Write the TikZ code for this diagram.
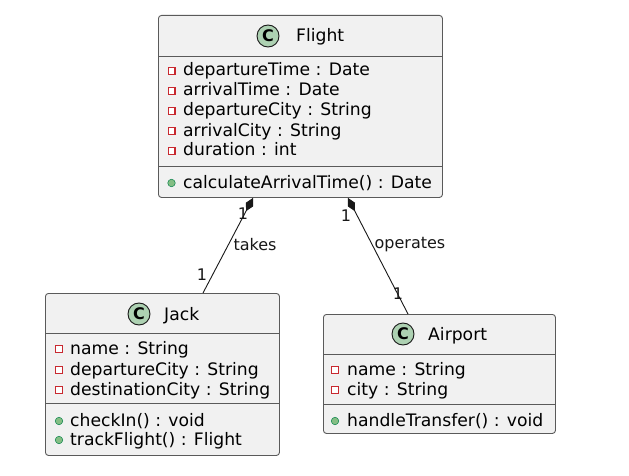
\documentclass[tikz,border=0pt]{standalone}
\usepackage{fontspec}
\setmainfont{DejaVu Sans}
\usetikzlibrary{arrows.meta,calc}
\definecolor{boxfill}{HTML}{F1F1F1}
\definecolor{boxline}{HTML}{5A5A5A}
\definecolor{iconfill}{HTML}{ADD1B2}
\definecolor{privred}{HTML}{C82930}
\definecolor{pubgreen}{HTML}{84BE84}
\definecolor{pubedge}{HTML}{038048}
\definecolor{linecol}{HTML}{181818}
\tikzset{
  classbox/.style={draw=boxline, fill=boxfill, line width=0.9pt, rounded corners=3pt, anchor=north west, inner sep=0pt},
  sepline/.style={draw=boxline, line width=0.9pt},
  member/.style={anchor=base west, inner sep=0pt, font=\fontsize{17.2}{20}\selectfont},
  title/.style={anchor=base west, inner sep=0pt, font=\fontsize{17.2}{20}\selectfont},
  cicon/.style={circle, draw=linecol, fill=iconfill, line width=0.9pt, minimum size=22pt, inner sep=0pt, font=\fontsize{16}{16}\selectfont\bfseries},
  pub/.style={circle, draw=pubedge, fill=pubgreen, line width=0.5pt, minimum size=7.5pt, inner sep=0pt},
  lbl/.style={inner sep=0pt, font=\fontsize{16}{16}\selectfont, text=linecol},
  conn/.style={draw=linecol, line width=0.9pt},
}
\newcommand{\privicon}[2]{%
  \fill[privred] ($(#1,#2)+(-4,-4)$) rectangle ($(#1,#2)+(4,4)$);
  \fill[white] ($(#1,#2)+(-2.8,-2.8)$) rectangle ($(#1,#2)+(2.8,2.8)$);}
\begin{document}
\begin{tikzpicture}[x=1pt,y=-1pt]
\useasboundingbox (0,0) rectangle (629,476);
\fill[white] (0,0) rectangle (629,476);

% ---------- Flight ----------
\node[classbox, minimum width=284pt, minimum height=182pt] (flight) at (158,15) {};
\draw[sepline] (158,56) -- (442,56);
\draw[sepline] (158,166) -- (442,166);
\node[cicon] (flightC) at (268,36) {C};
\node[title] (flightT) at (296,42) {Flight};
\privicon{171.5}{71}
\privicon{171.5}{91}
\privicon{171.5}{111}
\privicon{171.5}{131}
\privicon{171.5}{151}
\node[member] (fa1) at (183,76) {departureTime : Date};
\node[member] (fa2) at (183,96) {arrivalTime : Date};
\node[member] (fa3) at (183,116) {departureCity : String};
\node[member] (fa4) at (183,136) {arrivalCity : String};
\node[member] (fa5) at (183,156) {duration : int};
\node[pub] (fm1i) at (171.5,183) {};
\node[member] (fm1) at (183,188) {calculateArrivalTime() : Date};

% ---------- Jack ----------
\node[classbox, minimum width=234pt, minimum height=162pt] (jack) at (45,293) {};
\draw[sepline] (45,333) -- (279,333);
\draw[sepline] (45,403) -- (279,403);
\node[cicon] (jackC) at (139,314) {C};
\node[title] (jackT) at (164,320) {Jack};
\privicon{59}{349}
\privicon{59}{370}
\privicon{59}{390}
\node[member] (ja1) at (70,354) {name : String};
\node[member] (ja2) at (70,375) {departureCity : String};
\node[member] (ja3) at (70,395) {destinationCity : String};
\node[pub] (jpi1) at (59,421) {};
\node[pub] (jpi2) at (59,440) {};
\node[member] (jm1) at (70,426) {checkIn() : void};
\node[member] (jm2) at (70,445) {trackFlight() : Flight};

% ---------- Airport ----------
\node[classbox, minimum width=232pt, minimum height=119pt] (airport) at (323,314) {};
\draw[sepline] (323,354) -- (555,354);
\draw[sepline] (323,404) -- (555,404);
\node[cicon] (airportC) at (403,334) {C};
\node[title] (airportT) at (428,340) {Airport};
\privicon{335}{370}
\privicon{335}{390}
\node[member] (aa1) at (347,375) {name : String};
\node[member] (aa2) at (347,395) {city : String};
\node[pub] (api1) at (335,421) {};
\node[member] (am1) at (347,426) {handleTransfer() : void};

% ---------- connectors ----------
\coordinate (fT) at ($(flight.south west)+(95,0)$);
\coordinate (fO) at ($(flight.south west)+(190,0)$);
\coordinate (jT) at ($(jack.north west)+(158,0)$);
\coordinate (aT) at ($(airport.north west)+(85,0)$);
\draw[conn, -{Diamond[length=15pt,width=8pt,fill=linecol]}] (jT) -- (fT);
\draw[conn, -{Diamond[length=15pt,width=8pt,fill=linecol]}] (aT) -- (fO);

\node[lbl] (l1) at (243,214) {1};
\node[lbl] (l2) at (255,245) {takes};
\node[lbl] (l3) at (202,275) {1};
\node[lbl] (l4) at (346,216) {1};
\node[lbl] (l5) at (410,245) {operates};
\node[lbl] (l6) at (398,294) {1};
\end{tikzpicture}
\end{document}
